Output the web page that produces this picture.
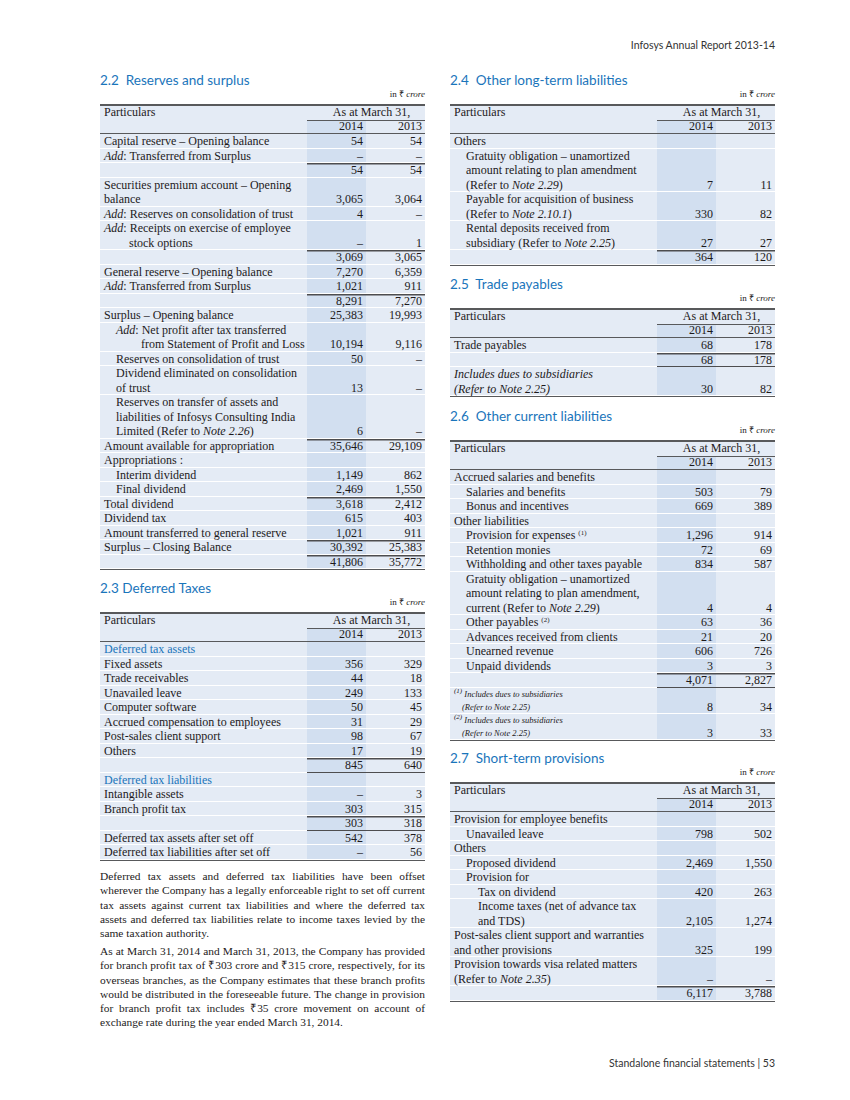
<!DOCTYPE html>
<html>
<head>
<meta charset="utf-8">
<script src="https://cdn.jsdelivr.net/npm/chart.js@4.4.0/dist/chart.umd.min.js"></script>
<style>
  body { margin: 0; width: 850px; height: 1100px; position: relative; background: #fff; color: #1d1a1b; font-family: "Liberation Serif", serif; }
  .runhead { position: absolute; right: 75px; font: 400 10.5px/12px Lato, sans-serif; color: #333; white-space: nowrap; }
  .sec { position: absolute; width: 325px; }
  .sec h2 { margin: 0; font: 400 13.5px/16px Lato, sans-serif; color: #1a75bb; white-space: nowrap; }
  .unit { text-align: right; font-size: 9px; line-height: 10px; margin-top: 1px; }
  table { border-collapse: separate; border-spacing: 0; width: 325px; table-layout: fixed; margin-top: 5px;
          border-top: 2px solid #58595b; border-bottom: 1.5px solid #58595b; font-size: 12px; }
  td, th { padding: 0 3px 0 4px; line-height: 14.5px; vertical-align: bottom; background: #e4ebf5;
           box-shadow: inset 0 -1px 0 #fff; font-weight: 400; white-space: nowrap; }
  th { box-shadow: none; line-height: 13.5px; }
  thead tr:last-child th { border-bottom: 1px solid #58595b; }
  td.v, th.v { text-align: right; }
  .c14 { background: #d2dff0; }
  th.yr { box-shadow: inset 0 1px 0 #58595b; }
  td.t { box-shadow: inset 0 1.5px 0 #4d4d4f, inset 0 -1px 0 #fff; }
  td.b { box-shadow: inset 0 -1px 0 #4d4d4f; }
  td.t.b { box-shadow: inset 0 1.5px 0 #4d4d4f, inset 0 -1px 0 #4d4d4f; }
  .blue { color: #1a75bb; }
  tr.fn td { line-height: 13px; }
  tr.fn td.l { font-size: 8.5px; font-style: italic; }
  sup { font-size: 7px; line-height: 0; vertical-align: 4px; }
  .para { position: absolute; left: 100px; width: 325px; font-size: 11.4px; }
  .para div { height: 14.3px; line-height: 14.3px; white-space: nowrap; text-align: justify; text-align-last: justify; }
  .para div.last { text-align-last: left; }
</style>
</head>
<body>
<div class="runhead" style="top:39px">Infosys Annual Report 2013-14</div>
<div class="runhead" style="top:1057px">Standalone financial statements | 53</div>
<div id="page"></div>
<script>
// 2.2 Reserves and surplus  (0 = nil shown as a dash, null = blank)
const reservesLabels = [
  "Capital reserve – Opening balance", "*Add*: Transferred from Surplus", "",
  "Securities premium account – Opening|balance", "*Add*: Reserves on consolidation of trust",
  "*Add*: Receipts on exercise of employee|stock options", "",
  "General reserve – Opening balance", "*Add*: Transferred from Surplus", "",
  "Surplus – Opening balance", "*Add*: Net profit after tax transferred|from Statement of Profit and Loss",
  "Reserves on consolidation of trust", "Dividend eliminated on consolidation|of trust",
  "Reserves on transfer of assets and|liabilities of Infosys Consulting India|Limited (Refer to *Note 2.26*)",
  "Amount available for appropriation", "Appropriations :", "Interim dividend", "Final dividend",
  "Total dividend", "Dividend tax", "Amount transferred to general reserve", "Surplus – Closing Balance", ""
];
const reserves2014 = [54, 0, 54, 3065, 4, 0, 3069, 7270, 1021, 8291, 25383, 10194, 50, 13, 6, 35646, null, 1149, 2469, 3618, 615, 1021, 30392, 41806];
const reserves2013 = [54, 0, 54, 3064, 0, 1, 3065, 6359, 911, 7270, 19993, 9116, 0, 0, 0, 29109, null, 862, 1550, 2412, 403, 911, 25383, 35772];
const reservesRowKind = ["", "", "t", "", "", "h", "t", "", "", "t", "", "i1 h", "i1", "i1", "i1", "t", "", "i1", "i1", "t", "", "", "t", "t"];

// 2.3 Deferred Taxes
const deferredLabels = [
  "Deferred tax assets", "Fixed assets", "Trade receivables", "Unavailed leave", "Computer software",
  "Accrued compensation to employees", "Post-sales client support", "Others", "",
  "Deferred tax liabilities", "Intangible assets", "Branch profit tax", "",
  "Deferred tax assets after set off", "Deferred tax liabilities after set off"
];
const deferred2014 = [null, 356, 44, 249, 50, 31, 98, 17, 845, null, 0, 303, 303, 542, 0];
const deferred2013 = [null, 329, 18, 133, 45, 29, 67, 19, 640, null, 3, 315, 318, 378, 56];
const deferredRowKind = ["blue", "", "", "", "", "", "", "", "t b", "blue", "", "", "t b", "", ""];

// 2.4 Other long-term liabilities
const longTermLabels = [
  "Others",
  "Gratuity obligation – unamortized|amount relating to plan amendment|(Refer to *Note 2.29*)",
  "Payable for acquisition of business|(Refer to *Note 2.10.1*)",
  "Rental deposits received from|subsidiary (Refer to *Note 2.25*)", ""
];
const longTerm2014 = [null, 7, 330, 27, 364];
const longTerm2013 = [null, 11, 82, 27, 120];
const longTermRowKind = ["", "i1", "i1", "i1", "t"];

// 2.5 Trade payables
const payablesLabels = ["Trade payables", "", "*Includes dues to subsidiaries*|*(Refer to Note 2.25)*"];
const payables2014 = [68, 68, 30];
const payables2013 = [178, 178, 82];
const payablesRowKind = ["", "t b", ""];

// 2.6 Other current liabilities
const currentLabels = [
  "Accrued salaries and benefits", "Salaries and benefits", "Bonus and incentives", "Other liabilities",
  "Provision for expenses ^(1)", "Retention monies", "Withholding and other taxes payable",
  "Gratuity obligation – unamortized|amount relating to plan amendment,|current (Refer to *Note 2.29*)",
  "Other payables ^(2)", "Advances received from clients", "Unearned revenue", "Unpaid dividends", "",
  "^(1) Includes dues to subsidiaries|(Refer to Note 2.25)", "^(2) Includes dues to subsidiaries|(Refer to Note 2.25)"
];
const current2014 = [null, 503, 669, null, 1296, 72, 834, 4, 63, 21, 606, 3, 4071, 8, 3];
const current2013 = [null, 79, 389, null, 914, 69, 587, 4, 36, 20, 726, 3, 2827, 34, 33];
const currentRowKind = ["", "i1", "i1", "", "i1", "i1", "i1", "i1", "i1", "i1", "i1", "i1", "t b", "fn", "fn"];

// 2.7 Short-term provisions
const provisionsLabels = [
  "Provision for employee benefits", "Unavailed leave", "Others", "Proposed dividend", "Provision for",
  "Tax on dividend", "Income taxes (net of advance tax|and TDS)",
  "Post-sales client support and warranties|and other provisions",
  "Provision towards visa related matters|(Refer to *Note 2.35*)", ""
];
const provisions2014 = [null, 798, null, 2469, null, 420, 2105, 325, 0, 6117];
const provisions2013 = [null, 502, null, 1550, null, 263, 1274, 199, 0, 3788];
const provisionsRowKind = ["", "i1", "", "i1", "i1", "i2", "i2", "", "", "t"];

const yearLabels = ["2014", "2013"];

const para1 = [
  "Deferred tax assets and deferred tax liabilities have been offset",
  "wherever the Company has a legally enforceable right to set off current",
  "tax assets against current tax liabilities and where the deferred tax",
  "assets and deferred tax liabilities relate to income taxes levied by the",
  "same taxation authority."
];
const para2 = [
  "As at March 31, 2014 and March 31, 2013, the Company has provided",
  "for branch profit tax of ₹303 crore and ₹315 crore, respectively, for its",
  "overseas branches, as the Company estimates that these branch profits",
  "would be distributed in the foreseeable future. The change in provision",
  "for branch profit tax includes ₹35 crore movement on account of",
  "exchange rate during the year ended March 31, 2014."
];

function markup(s) {
  return s.replace(/\*([^*]+)\*/g, "<i>$1</i>").replace(/\^(\(\d\))/g, "<sup>$1</sup>");
}
function fmt(v) {
  if (v === null) return "";
  if (v === 0) return "–";
  return v.toLocaleString("en-US");
}

function buildTable(labels, a, b, kinds) {
  let h = '<table><colgroup><col style="width:207px"><col style="width:59px"><col style="width:59px"></colgroup>';
  h += '<thead><tr><th style="text-align:left">Particulars</th><th colspan="2" style="text-align:center;padding-left:14px">As at March 31,</th></tr>';
  h += '<tr><th></th><th class="v c14 yr">' + yearLabels[0] + '</th><th class="v yr">' + yearLabels[1] + '</th></tr></thead><tbody>';
  labels.forEach((lab, i) => {
    const k = kinds[i].split(" ");
    const lvl = k.includes("i2") ? 2 : k.includes("i1") ? 1 : 0;
    const fn = k.includes("fn");
    const lines = lab.split("|");
    let cell = "";
    lines.forEach((ln, j) => {
      let pad = lvl * 12;
      if (j > 0 && k.includes("h")) pad += 25;
      if (j > 0 && fn) pad += 8;
      cell += '<div style="padding-left:' + pad + 'px">' + (markup(ln) || "&nbsp;") + '</div>';
    });
    const lc = k.includes("blue") ? "l blue" : "l";
    const vc = (k.includes("t") ? " t" : "") + (k.includes("b") ? " b" : "");
    h += '<tr' + (fn ? ' class="fn"' : '') + '><td class="' + lc + '">' + cell + '</td>';
    h += '<td class="v c14' + vc + '">' + fmt(a[i]) + '</td><td class="v' + vc + '">' + fmt(b[i]) + '</td></tr>';
  });
  return h + '</tbody></table>';
}

function section(x, titleY, title, table) {
  return '<div class="sec" style="left:' + x + 'px;top:' + (titleY - 8) + 'px"><h2>' + title + '</h2>' +
    '<div class="unit">in ₹ <i>crore</i></div>' + table + '</div>';
}

function para(top, lines) {
  return '<div class="para" style="top:' + top + 'px">' +
    lines.map((l, i) => '<div' + (i === lines.length - 1 ? ' class="last"' : '') + '>' + l + '</div>').join("") + '</div>';
}

let html = "";
html += section(100, 80, "2.2&nbsp; Reserves and surplus", buildTable(reservesLabels, reserves2014, reserves2013, reservesRowKind));
html += section(100, 588, "2.3 Deferred Taxes", buildTable(deferredLabels, deferred2014, deferred2013, deferredRowKind));
html += section(450, 80, "2.4&nbsp; Other long-term liabilities", buildTable(longTermLabels, longTerm2014, longTerm2013, longTermRowKind));
html += section(450, 284, "2.5&nbsp; Trade payables", buildTable(payablesLabels, payables2014, payables2013, payablesRowKind));
html += section(450, 416, "2.6&nbsp; Other current liabilities", buildTable(currentLabels, current2014, current2013, currentRowKind));
html += section(450, 758, "2.7&nbsp; Short-term provisions", buildTable(provisionsLabels, provisions2014, provisions2013, provisionsRowKind));
html += para(869, para1);
html += para(944, para2);
document.getElementById("page").innerHTML = html;
</script>
</body>
</html>
